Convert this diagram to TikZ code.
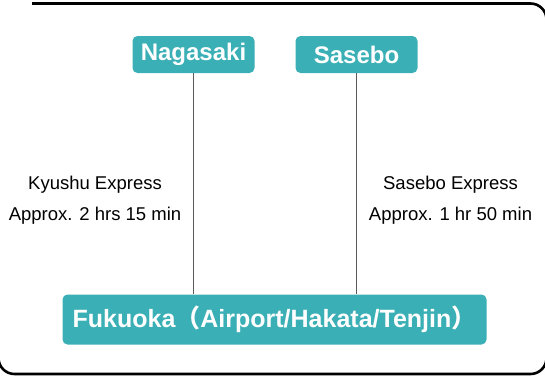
\documentclass[tikz,border=0pt]{standalone}
\usepackage{fontspec}
\setmainfont{Liberation Sans}
\newfontfamily\jpfont{Noto Sans CJK JP}
\usetikzlibrary{positioning}
\definecolor{boxteal}{HTML}{3AAFB5}
\definecolor{routegray}{HTML}{5A5A5A}
\begin{document}
\begin{tikzpicture}[x=1pt, y=-1pt,
  city/.style={fill=boxteal, rounded corners=5pt, text=white, inner sep=0pt,
    font=\bfseries\fontsize{24}{24}\selectfont},
  route/.style={draw=routegray, line width=0.9pt},
  info/.style={font=\fontsize{18.5}{18.5}\selectfont, inner sep=0pt, anchor=base}]
\useasboundingbox (0,0) rectangle (545,376);
% outer frame
\draw[line width=2.6pt, rounded corners=16pt] (32,3.5) -- (546.5,3.5) -- (546.5,374) -- (-1.5,374) -- (-1.5,300);
% stations
\node[city, minimum width=122pt, minimum height=37pt] (nagasaki) at (193.5,54.5) {Nagasaki};
\node[city, minimum width=122pt, minimum height=37pt] (sasebo) at (356.5,54.5) {Sasebo};
\node[city, minimum width=424pt, minimum height=50pt, font=\bfseries\fontsize{25}{25}\selectfont] (fukuoka) at (274.5,319.5) {Fukuoka{\jpfont（}Airport/Hakata/Tenjin{\jpfont）}};
\draw[route] (nagasaki.south) -- (nagasaki.south |- fukuoka.north);
\draw[route] (sasebo.south) -- (sasebo.south |- fukuoka.north);
% trains
\node[info] (kyushu) at (95,189) {Kyushu Express};
\node[info] (kyushutime) at (95,220) {Approx. 2 hrs 15 min};
\node[info] (saseboexp) at (450.5,189) {Sasebo Express};
\node[info] (sasebotime) at (450.5,220) {Approx. 1 hr 50 min};
\end{tikzpicture}
\end{document}
